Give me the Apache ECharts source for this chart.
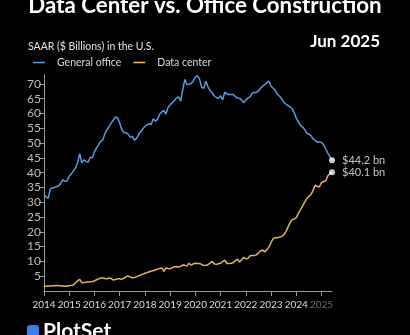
<!DOCTYPE html>
<html>
<head>
<meta charset="utf-8">
<script src="https://cdn.jsdelivr.net/npm/echarts@6/dist/echarts.min.js"></script>
<style>
html,body{margin:0;padding:0;background:#000;}
#c{width:410px;height:335px;}
</style>
</head>
<body>
<div id="c"></div>
<script>
// Monthly, Jan 2014 .. Jun 2025 (month index 0 = Jan 2014)
const yearLabels = ['2014','2015','2016','2017','2018','2019','2020','2021','2022','2023','2024','2025'];

const generalOffice = [
  32.5, 31.8, 31.3, 34.5, 34.8, 35.0, 35.3, 35.5, 36.5, 37.6, 37.0, 37.3,
  38.8, 39.6, 40.6, 41.6, 43.5, 46.4, 43.3, 44.3, 43.8, 43.5, 45.2, 45.0,
  47.0, 48.4, 49.5, 50.6, 51.1, 53.2, 54.6, 55.6, 56.8, 57.8, 58.8, 58.5,
  56.8, 54.6, 53.6, 53.5, 53.0, 52.0, 52.3, 51.0, 51.6, 52.8, 53.9, 54.8,
  55.6, 56.2, 56.5, 56.3, 58.2, 57.4, 58.0, 59.7, 60.5, 61.0, 59.8, 62.0,
  63.0, 63.6, 64.4, 65.2, 65.6, 64.2, 68.0, 71.5, 69.8, 69.9, 70.1, 71.0,
  72.3, 72.8, 71.6, 68.8, 68.5, 70.9, 69.0, 67.8, 67.0, 66.0, 65.4, 65.1,
  66.0, 64.6, 67.2, 66.6, 66.4, 66.4, 66.4, 65.8, 65.2, 65.1, 64.6, 63.6,
  64.6, 65.2, 65.6, 66.8, 67.1, 67.1, 67.6, 68.5, 69.2, 69.8, 70.4, 71.0,
  69.2, 68.5, 67.8, 66.5, 65.9, 65.0, 63.9, 63.2, 62.7, 62.3, 61.6, 60.3,
  58.4, 57.2, 56.0, 55.4, 54.6, 53.4, 53.0, 52.5, 51.4, 50.9, 50.3, 50.4,
  50.2, 49.4, 48.0, 46.6, 45.4, 44.2
];

const dataCenter = [
  1.6, 1.6, 1.7, 1.7, 1.8, 1.8, 1.9, 1.8, 1.8, 1.7, 1.6, 1.7,
  1.8, 1.9, 2.0, 2.8, 3.4, 3.9, 2.8, 2.9, 3.0, 3.0, 3.1, 3.2,
  3.4, 3.8, 4.1, 4.4, 4.4, 4.2, 4.1, 4.4, 4.2, 3.7, 3.9, 4.1,
  4.1, 4.0, 4.3, 4.8, 5.1, 4.7, 4.5, 4.6, 4.8, 5.1, 5.4, 5.7,
  6.0, 6.2, 6.5, 6.7, 6.9, 7.1, 7.4, 7.6, 7.8, 6.6, 7.8, 7.6,
  7.5, 7.9, 8.2, 8.2, 8.1, 8.3, 8.8, 8.7, 8.4, 9.4, 8.7, 9.2,
  9.4, 9.3, 9.3, 9.0, 8.6, 8.7, 8.9, 9.4, 10.0, 9.1, 9.0, 9.2,
  9.4, 9.9, 10.4, 9.3, 9.3, 9.4, 9.6, 10.2, 10.8, 9.8, 10.6, 11.4,
  10.9, 11.0, 11.9, 12.0, 12.0, 12.2, 12.8, 13.6, 13.8, 13.2, 13.9, 14.9,
  16.3, 17.7, 18.0, 18.0, 18.2, 18.4, 19.0, 20.0, 21.5, 23.0, 24.1, 24.3,
  24.8, 26.2, 27.4, 28.8, 30.0, 31.2, 32.0, 32.6, 34.0, 35.8, 35.3, 35.2,
  36.6, 37.0, 37.2, 38.9, 39.6, 40.1
];

const yTickValues = [5, 10, 15, 20, 25, 30, 35, 40, 45, 50, 55, 60, 65, 70];
const seriesNames = ['General office', 'Data center'];
const titleText = 'Data Center vs. Office Construction';
const subtitleText = 'SAAR ($ Billions) in the U.S.';
const dateText = 'Jun 2025';

const BLUE = '#5a9bd8';
const GOLD = '#e3b458';
const last = generalOffice.length - 1;
const xTickValues = yearLabels.map(function (y, i) { return i * 12; });
const toPairs = function (arr) { return arr.map(function (v, i) { return [i, v]; }); };

const chart = echarts.init(document.getElementById('c'), null, {renderer: 'canvas'});
chart.setOption({
  backgroundColor: '#000',
  animation: false,
  textStyle: {fontFamily: 'Lato, "Noto Sans", sans-serif'},
  title: [
    {text: titleText, left: 'center', top: -10,
     textStyle: {color: '#fff', fontSize: 22.3, fontWeight: 'bold', fontFamily: 'Lato, "Noto Sans", sans-serif'}},
    {text: subtitleText, left: 23, top: 36,
     textStyle: {color: '#e6e6e6', fontSize: 10.5, fontWeight: 'normal'}},
    {text: dateText, right: 25, top: 28,
     textStyle: {color: '#fff', fontSize: 17, fontWeight: 'bold'}}
  ],
  legend: {
    left: 28, top: 52,
    icon: 'path://M0,0 L12,0 L12,1.6 L0,1.6 Z',
    itemWidth: 12, itemHeight: 2, itemGap: 12,
    textStyle: {color: '#dcdcdc', fontSize: 10.5, padding: [0, 0, 0, 7]},
    data: seriesNames
  },
  grid: {left: 44, right: 78, top: 75, bottom: 44, containLabel: false},
  xAxis: {
    type: 'value',
    min: 0, max: last,
    axisLine: {show: true, lineStyle: {color: '#9a9a9a', width: 1}},
    axisTick: {show: true, length: 5, lineStyle: {color: '#9a9a9a'}, customValues: xTickValues},
    axisLabel: {
      customValues: xTickValues,
      formatter: function (v) { return yearLabels[Math.round(v / 12)]; },
      color: function (v) { return Math.round(v) === 132 ? '#6a6a6a' : '#dcdcdc'; },
      fontSize: 10, margin: 9
    },
    splitLine: {show: false}
  },
  yAxis: {
    type: 'value',
    min: 0, max: 73,
    axisLine: {show: true, lineStyle: {color: '#9a9a9a', width: 1}},
    axisTick: {show: true, length: 5, lineStyle: {color: '#9a9a9a'}, customValues: yTickValues},
    axisLabel: {color: '#bdbdbd', fontSize: 12, margin: 3, customValues: yTickValues},
    splitLine: {show: false}
  },
  series: [
    {name: seriesNames[0], type: 'line', data: toPairs(generalOffice), showSymbol: false,
     lineStyle: {color: BLUE, width: 1.5}, itemStyle: {color: BLUE}, z: 3},
    {name: seriesNames[1], type: 'line', data: toPairs(dataCenter), showSymbol: false,
     lineStyle: {color: GOLD, width: 1.5}, itemStyle: {color: GOLD}, z: 3},
    {type: 'scatter', symbol: 'circle', symbolSize: 6, z: 5,
     itemStyle: {color: '#fff'},
     label: {show: true, position: 'right', distance: 7, color: '#f0f0f0', fontSize: 11,
             formatter: function (p) { return '$' + p.value[1].toFixed(1) + ' bn'; }},
     data: [[last, generalOffice[last]], [last, dataCenter[last]]]}
  ],
  graphic: [
    {type: 'rect', left: 27, top: 325, shape: {width: 12, height: 12, r: 3}, style: {fill: '#3c7fe6'}},
    {type: 'text', left: 43, top: 321, style: {text: 'PlotSet', fill: '#fff', fontSize: 21, fontWeight: 'bold', fontFamily: 'Lato, "Noto Sans", sans-serif'}}
  ]
});
</script>
</body>
</html>
